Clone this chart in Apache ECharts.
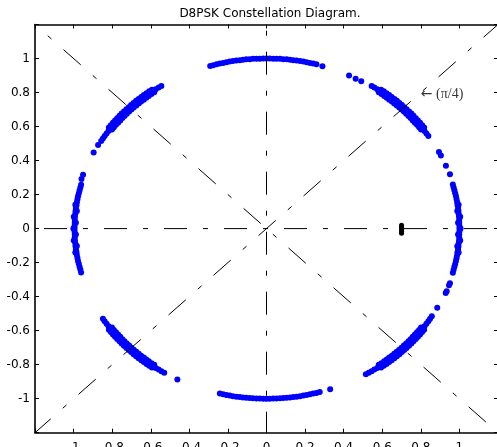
<!DOCTYPE html>
<html>
<head>
<meta charset="utf-8">
<script src="https://cdn.jsdelivr.net/npm/echarts@6/dist/echarts.min.js"></script>
<style>
  html, body { margin: 0; padding: 0; background: #fff; }
  #chart { width: 497px; height: 447px; }
</style>
</head>
<body>
<div id="chart"></div>
<script>
// Received D8PSK symbols (I, Q), grouped by the phase state they cluster around.
const symbolsNear90 = [
  [0.259,0.966],[0.242,0.970],[0.225,0.974],[0.208,0.978],[0.191,0.982],[0.174,0.985],[0.156,0.988],
  [0.139,0.990],[0.122,0.993],[0.105,0.995],[0.087,0.996],[0.070,0.998],[0.052,0.999],[0.035,0.999],
  [0.017,1.000],[0.000,1.000],[-0.017,1.000],[-0.035,0.999],[-0.052,0.999],[-0.070,0.998],[-0.087,0.996],
  [-0.105,0.995],[-0.122,0.993],[-0.139,0.990],[-0.156,0.988],[-0.174,0.985],[-0.191,0.982],[-0.208,0.978],
  [-0.225,0.974],[-0.242,0.970],[-0.259,0.966],[-0.276,0.961],[-0.292,0.956]
];
const symbolsNear45 = [
  [0.839,0.545],[0.829,0.559],[0.819,0.574],[0.809,0.588],[0.799,0.602],[0.788,0.616],[0.777,0.629],
  [0.766,0.643],[0.755,0.656],[0.743,0.669],[0.731,0.682],[0.719,0.695],[0.707,0.707],[0.695,0.719],
  [0.682,0.731],[0.669,0.743],[0.656,0.755],[0.643,0.766],[0.629,0.777],[0.616,0.788],[0.602,0.799],
  [0.588,0.809],[0.574,0.819],[0.559,0.829],[0.545,0.839],
  [0.817,0.594],[0.807,0.608],[0.796,0.622],[0.785,0.636],[0.774,0.649],[0.762,0.663],[0.751,0.676],
  [0.739,0.689],[0.726,0.702],[0.714,0.714],[0.702,0.726],[0.689,0.739],[0.676,0.751],[0.663,0.762],
  [0.649,0.774],[0.636,0.785],[0.622,0.796],[0.608,0.807],[0.594,0.817],
  [0.801,0.582],[0.791,0.596],[0.780,0.610],[0.769,0.623],[0.758,0.636],[0.747,0.650],[0.736,0.662],
  [0.724,0.675],[0.712,0.688],[0.700,0.700],[0.688,0.712],[0.675,0.724],[0.662,0.736],[0.650,0.747],
  [0.636,0.758],[0.623,0.769],[0.610,0.780],[0.596,0.791],[0.582,0.801]
];
const symbolsNear0 = [
  [0.966,0.259],[0.970,0.242],[0.974,0.225],[0.978,0.208],[0.982,0.191],[0.985,0.174],[0.988,0.156],
  [0.990,0.139],[0.993,0.122],[0.995,0.105],[0.996,0.087],[0.998,0.070],[0.999,0.052],[0.999,0.035],
  [1.000,0.017],[1.000,0.000],[1.000,-0.017],[0.999,-0.035],[0.999,-0.052],[0.998,-0.070],[0.996,-0.087],
  [0.995,-0.105],[0.993,-0.122],[0.990,-0.139],[0.988,-0.156],[0.985,-0.174],[0.982,-0.191],[0.978,-0.208],
  [0.974,-0.225],[0.970,-0.242],[0.966,-0.259],
  [1.006,0.000],[1.004,0.070],[0.996,0.140],[1.004,-0.070],[0.996,-0.140],
  [0.993,0.035],[0.989,0.104],[0.993,-0.035],[0.989,-0.104]
];
const symbolsNearMinus45 = [
  [0.857,-0.515],[0.848,-0.530],[0.839,-0.545],[0.829,-0.559],[0.819,-0.574],[0.809,-0.588],[0.799,-0.602],
  [0.788,-0.616],[0.777,-0.629],[0.766,-0.643],[0.755,-0.656],[0.743,-0.669],[0.731,-0.682],[0.719,-0.695],
  [0.707,-0.707],[0.695,-0.719],[0.682,-0.731],[0.669,-0.743],[0.656,-0.755],[0.643,-0.766],[0.629,-0.777],
  [0.616,-0.788],[0.602,-0.799],[0.588,-0.809],[0.574,-0.819],[0.559,-0.829],[0.545,-0.839],[0.530,-0.848],
  [0.515,-0.857],
  [0.817,-0.594],[0.807,-0.608],[0.796,-0.622],[0.785,-0.636],[0.774,-0.649],[0.762,-0.663],[0.751,-0.676],
  [0.739,-0.689],[0.726,-0.702],[0.714,-0.714],[0.702,-0.726],[0.689,-0.739],[0.676,-0.751],[0.663,-0.762],
  [0.649,-0.774],[0.636,-0.785],[0.622,-0.796],[0.608,-0.807],[0.594,-0.817],
  [0.801,-0.582],[0.791,-0.596],[0.780,-0.610],[0.769,-0.623],[0.758,-0.636],[0.747,-0.650],[0.736,-0.662],
  [0.724,-0.675],[0.712,-0.688],[0.700,-0.700],[0.688,-0.712],[0.675,-0.724],[0.662,-0.736],[0.650,-0.747],
  [0.636,-0.758],[0.623,-0.769],[0.610,-0.780],[0.596,-0.791],[0.582,-0.801]
];
const symbolsNearMinus90 = [
  [0.276,-0.961],[0.259,-0.966],[0.242,-0.970],[0.225,-0.974],[0.208,-0.978],[0.191,-0.982],[0.174,-0.985],
  [0.156,-0.988],[0.139,-0.990],[0.122,-0.993],[0.105,-0.995],[0.087,-0.996],[0.070,-0.998],[0.052,-0.999],
  [0.035,-0.999],[0.017,-1.000],[0.000,-1.000],[-0.017,-1.000],[-0.035,-0.999],[-0.052,-0.999],[-0.070,-0.998],
  [-0.087,-0.996],[-0.105,-0.995],[-0.122,-0.993],[-0.139,-0.990],[-0.156,-0.988],[-0.174,-0.985],[-0.191,-0.982],
  [-0.208,-0.978],[-0.225,-0.974],[-0.242,-0.970]
];
const symbolsNearMinus135 = [
  [-0.848,-0.530],[-0.839,-0.545],[-0.829,-0.559],[-0.819,-0.574],[-0.809,-0.588],[-0.799,-0.602],[-0.788,-0.616],
  [-0.777,-0.629],[-0.766,-0.643],[-0.755,-0.656],[-0.743,-0.669],[-0.731,-0.682],[-0.719,-0.695],[-0.707,-0.707],
  [-0.695,-0.719],[-0.682,-0.731],[-0.669,-0.743],[-0.656,-0.755],[-0.643,-0.766],[-0.629,-0.777],[-0.616,-0.788],
  [-0.602,-0.799],[-0.588,-0.809],[-0.574,-0.819],[-0.559,-0.829],[-0.545,-0.839],[-0.530,-0.848],
  [-0.817,-0.594],[-0.807,-0.608],[-0.796,-0.622],[-0.785,-0.636],[-0.774,-0.649],[-0.762,-0.663],[-0.751,-0.676],
  [-0.739,-0.689],[-0.726,-0.702],[-0.714,-0.714],[-0.702,-0.726],[-0.689,-0.739],[-0.676,-0.751],[-0.663,-0.762],
  [-0.649,-0.774],[-0.636,-0.785],[-0.622,-0.796],[-0.608,-0.807],[-0.594,-0.817],
  [-0.801,-0.582],[-0.791,-0.596],[-0.780,-0.610],[-0.769,-0.623],[-0.758,-0.636],[-0.747,-0.650],[-0.736,-0.662],
  [-0.724,-0.675],[-0.712,-0.688],[-0.700,-0.700],[-0.688,-0.712],[-0.675,-0.724],[-0.662,-0.736],[-0.650,-0.747],
  [-0.636,-0.758],[-0.623,-0.769],[-0.610,-0.780],[-0.596,-0.791],[-0.582,-0.801]
];
const symbolsNear180 = [
  [-0.961,0.258],[-0.965,0.241],[-0.969,0.224],[-0.973,0.207],[-0.977,0.190],[-0.980,0.173],[-0.983,0.155],
  [-0.985,0.138],[-0.988,0.121],[-0.990,0.104],[-0.991,0.087],[-0.993,0.070],[-0.994,0.052],[-0.994,0.035],
  [-0.995,0.017],[-0.995,0.000],[-0.995,-0.017],[-0.994,-0.035],[-0.994,-0.052],[-0.993,-0.070],[-0.991,-0.087],
  [-0.990,-0.104],[-0.988,-0.121],[-0.985,-0.138],[-0.983,-0.155],[-0.980,-0.173],[-0.977,-0.190],[-0.973,-0.207],
  [-0.969,-0.224],[-0.965,-0.241],[-0.961,-0.258],
  [-1.001,0.000],[-0.999,0.070],[-0.991,0.140],[-0.999,-0.070],[-0.991,-0.140],
  [-0.988,0.035],[-0.983,0.103],[-0.988,-0.035],[-0.983,-0.103]
];
const symbolsNear135 = [
  [-0.857,0.515],[-0.848,0.530],[-0.839,0.545],[-0.829,0.559],[-0.819,0.574],[-0.809,0.588],[-0.799,0.602],
  [-0.788,0.616],[-0.777,0.629],[-0.766,0.643],[-0.755,0.656],[-0.743,0.669],[-0.731,0.682],[-0.719,0.695],
  [-0.707,0.707],[-0.695,0.719],[-0.682,0.731],[-0.669,0.743],[-0.656,0.755],[-0.643,0.766],[-0.629,0.777],
  [-0.616,0.788],[-0.602,0.799],[-0.588,0.809],[-0.574,0.819],[-0.559,0.829],[-0.545,0.839],
  [-0.817,0.594],[-0.807,0.608],[-0.796,0.622],[-0.785,0.636],[-0.774,0.649],[-0.762,0.663],[-0.751,0.676],
  [-0.739,0.689],[-0.726,0.702],[-0.714,0.714],[-0.702,0.726],[-0.689,0.739],[-0.676,0.751],[-0.663,0.762],
  [-0.649,0.774],[-0.636,0.785],[-0.622,0.796],[-0.608,0.807],[-0.594,0.817],
  [-0.801,0.582],[-0.791,0.596],[-0.780,0.610],[-0.769,0.623],[-0.758,0.636],[-0.747,0.650],[-0.736,0.662],
  [-0.724,0.675],[-0.712,0.688],[-0.700,0.700],[-0.688,0.712],[-0.675,0.724],[-0.662,0.736],[-0.650,0.747],
  [-0.636,0.758],[-0.623,0.769],[-0.610,0.780],[-0.596,0.791],[-0.582,0.801]
];
// Scattered symbols between the clusters
const straySymbols = [
  [0.290,0.954],[0.428,0.900],[0.462,0.881],[0.491,0.866],
  [0.894,0.451],[0.904,0.430],[0.930,0.369],[0.951,0.320],
  [0.951,-0.322],[0.946,-0.333],[0.934,-0.368],[0.929,-0.378],[0.885,-0.466],
  [0.330,-0.945],[-0.462,-0.887],
  [-0.951,0.316],[-0.959,0.291],[-0.873,0.492],[-0.896,0.447]
];
// Reference marker on the I axis
const referenceMarker = [[0.7,0.019],[0.7,0.008],[0.7,-0.004],[0.7,-0.016],[0.7,-0.028]];

// Decision guide lines through the origin
const guideHorizontal = [[-1.2,0],[1.2,0]];
const guideVertical = [[0,-1.2],[0,1.2]];
const guideDiagonalUp = [[-1.2,-1.2],[1.2,1.2]];
const guideDiagonalDown = [[-1.2,1.2],[1.2,-1.2]];

const annotationAt = [0.8, 0.79];
const annotationArrow = '\u2190';
const annotationText = '(\u03c0/4)';

const axisMin = -1.2, axisMax = 1.2, axisStep = 0.2;
const xTickLabels = ['-1','-0.8','-0.6','-0.4','-0.2','0','0.2','0.4','0.6','0.8','1'];
const yTickLabels = ['-1','-0.8','-0.6','-0.4','-0.2','0','0.2','0.4','0.6','0.8','1'];
const titleText = 'D8PSK Constellation Diagram.';

const tickFont = 'DejaVu Sans';
function tickFormatter(list) {
  return function (v) {
    const s = String(Math.round(v * 10) / 10);
    return list.indexOf(s) >= 0 ? s : '';
  };
}

function valueAxis(position, labels, showLabels, margin) {
  return {
    type: 'value', position: position, min: axisMin, max: axisMax, interval: axisStep,
    axisLine: { show: true, onZero: false, lineStyle: { color: '#000', width: 1.6 } },
    axisTick: { show: true, inside: true, length: 4, lineStyle: { color: '#000', width: 1 } },
    axisLabel: {
      show: showLabels, margin: margin, color: '#000', fontSize: 12, fontFamily: tickFont,
      formatter: tickFormatter(labels), showMinLabel: true, showMaxLabel: true
    },
    splitLine: { show: false }
  };
}

const dash = [23, 16, 5, 16];
function guide(points, offset) {
  return {
    type: 'line', data: points, xAxisIndex: 0, yAxisIndex: 0, showSymbol: false, symbol: 'none',
    silent: true, z: 5,
    lineStyle: { color: '#000', width: 1, type: dash, dashOffset: offset }
  };
}

const clusters = [symbolsNear90, symbolsNear45, symbolsNear0, symbolsNearMinus45,
  symbolsNearMinus90, symbolsNearMinus135, symbolsNear180, symbolsNear135, straySymbols];

const chart = echarts.init(document.getElementById('chart'), null, { renderer: 'canvas' });
chart.setOption({
  animation: false,
  backgroundColor: '#fff',
  title: {
    text: titleText, left: 265, top: 3, textAlign: 'center',
    textStyle: { fontSize: 12, fontWeight: 'normal', fontFamily: tickFont, color: '#000' }
  },
  grid: { left: 35, right: -1, top: 24.5, bottom: 14.3, containLabel: false, outerBoundsMode: 'none' },
  xAxis: [valueAxis('bottom', xTickLabels, true, 9), valueAxis('top', xTickLabels, false, 6)],
  yAxis: [valueAxis('left', yTickLabels, true, 5), valueAxis('right', yTickLabels, false, 5)],
  series: clusters.map(function (pts) {
    return {
      type: 'scatter', data: pts, xAxisIndex: 0, yAxisIndex: 0, symbol: 'circle', symbolSize: 6,
      silent: true, z: 2, itemStyle: { color: '#0000ff', opacity: 1 }
    };
  }).concat([
    guide(guideHorizontal, 51),
    guide(guideVertical, 2),
    guide(guideDiagonalUp, 2),
    guide(guideDiagonalDown, 22),
    {
      type: 'scatter', data: referenceMarker, xAxisIndex: 0, yAxisIndex: 0, symbolSize: 5,
      silent: true, z: 6, itemStyle: { color: '#000', opacity: 1 }
    },
    {
      type: 'scatter', data: [annotationAt], xAxisIndex: 0, yAxisIndex: 0, symbolSize: 0,
      silent: true, z: 7, itemStyle: { color: 'rgba(0,0,0,0)' },
      label: {
        show: true, position: 'right', distance: 0,
        formatter: '{arrow|' + annotationArrow + '}{txt| ' + annotationText + '}',
        rich: {
          arrow: { fontFamily: 'DejaVu Sans', fontSize: 14, color: '#000' },
          txt: { fontFamily: 'Liberation Serif', fontSize: 14, color: '#000' }
        }
      }
    }
  ])
});
</script>
</body>
</html>
